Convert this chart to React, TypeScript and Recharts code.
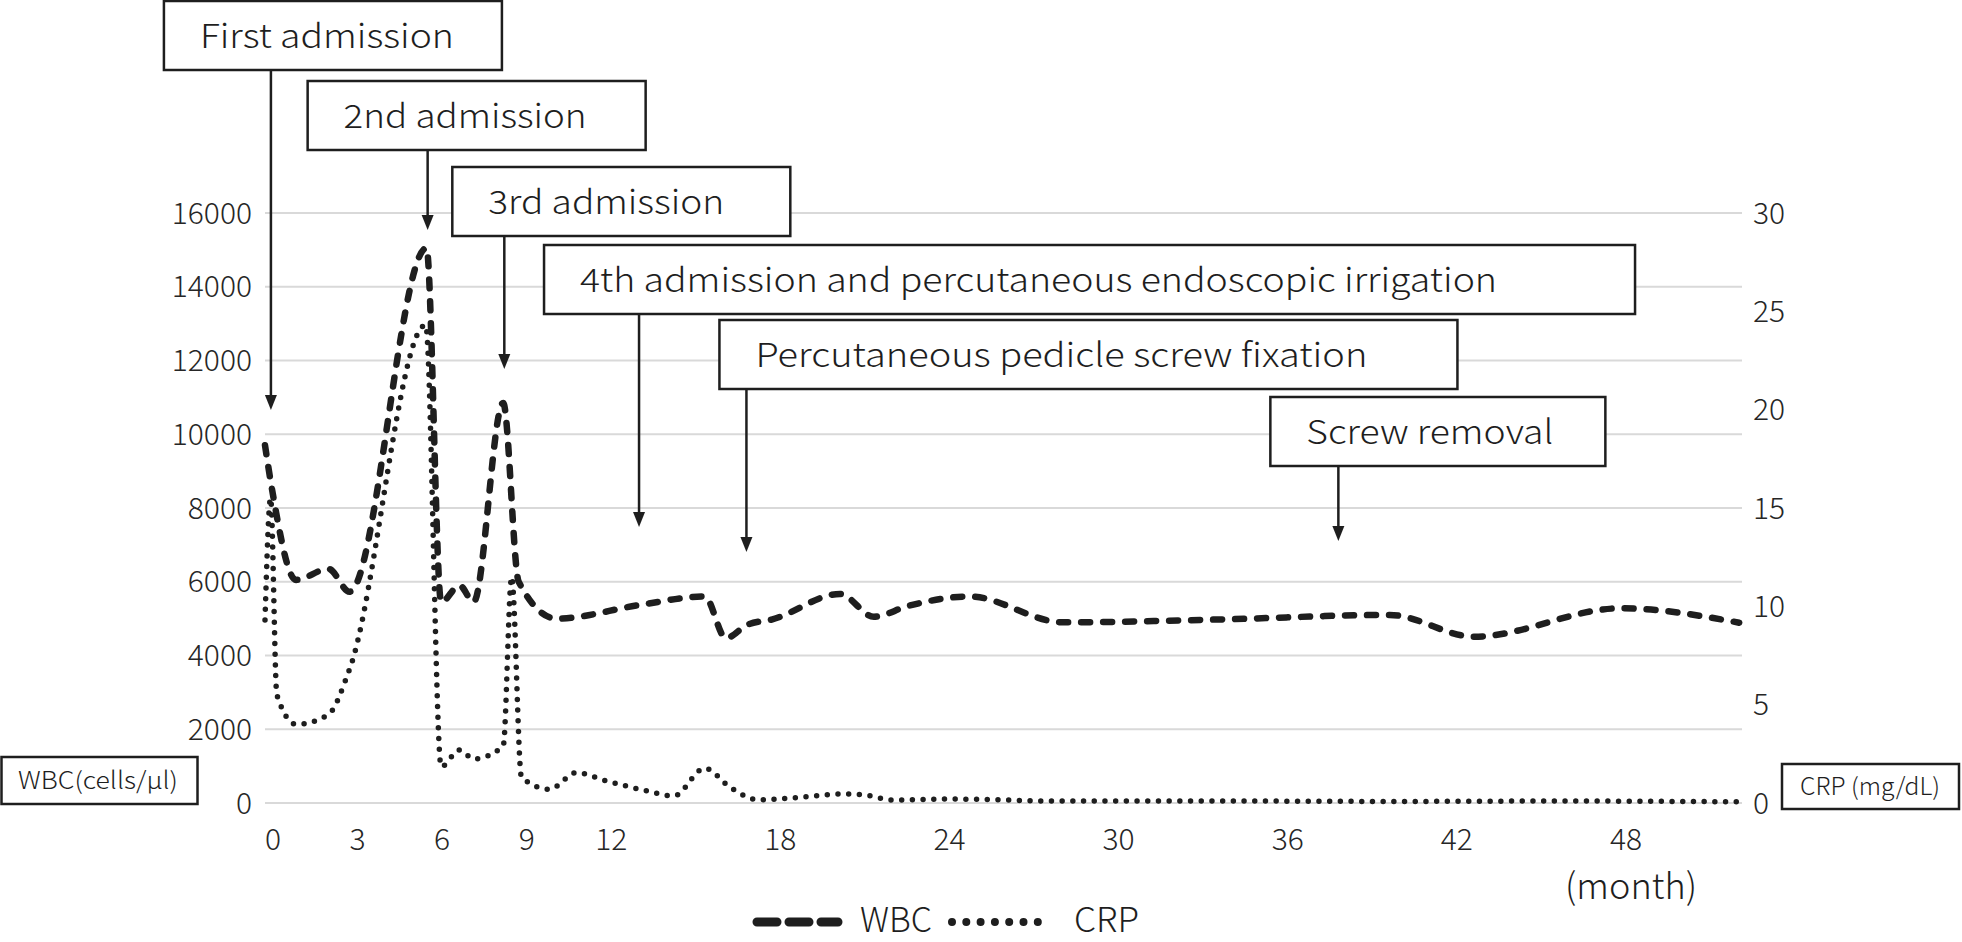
import { CartesianGrid, Legend, Line, LineChart, ReferenceLine, XAxis, YAxis } from "recharts";

// months since first admission
const wbcMonths = [0, 0.25, 1.1, 2.25, 3.0, 5.73, 6.25, 6.9, 7.4, 8.45, 9.0, 10.35, 13.3, 15.6, 16.35, 17.1, 18.0, 20.4, 21.6, 22.8, 25.0, 28.3, 34.0, 39.9, 42.9, 48.1, 52.3];
const wbcValues = [9700, 8500, 6050, 6350, 5730, 15050, 5450, 5900, 5450, 10850, 6000, 5000, 5370, 5600, 4470, 4830, 4980, 5670, 5050, 5340, 5600, 4900, 4980, 5100, 4510, 5280, 4890];

const crpMonths = [0, 0.2, 0.42, 1.1, 2.25, 3.0, 5.7, 6.25, 6.9, 7.4, 8.45, 8.75, 9.1, 10.1, 11.05, 12.0, 13.5, 14.5, 15.6, 16.5, 17.5, 18.6, 20.5, 21.3, 22.3, 24.0, 25.5, 28.0, 34.0, 40.0, 46.0, 52.3];
const crpValues = [9.3, 15.5, 5.5, 4.0, 4.5, 6.8, 24.3, 1.85, 2.7, 2.24, 2.9, 11.5, 1.3, 0.7, 1.55, 1.17, 0.63, 0.36, 1.77, 0.8, 0.16, 0.24, 0.46, 0.4, 0.15, 0.2, 0.18, 0.1, 0.1, 0.08, 0.1, 0.06];

const monthTicks = [0, 3, 6, 9, 12, 18, 24, 30, 36, 42, 48];
const minorTicks = Array.from({ length: 27 }, (_, i) => i * 2);
const wbcTicks = [0, 2000, 4000, 6000, 8000, 10000, 12000, 14000, 16000];
const crpTicks = [0, 5, 10, 15, 20, 25, 30];

const eventLabels = [
	"First admission",
	"2nd admission",
	"3rd admission",
	"4th admission and percutaneous endoscopic irrigation",
	"Percutaneous pedicle screw fixation",
	"Screw removal",
];
const eventMonths = [0.21, 5.77, 8.49, 13.27, 17.08, 38.08];

// box placement (px): offset of box from arrow, box top, box width, text width, arrow tip y
const eventBoxes = [
	{ dx: -107, top: 1, w: 338, tw: 254, tip: 410 },
	{ dx: -120, top: 81, w: 338, tw: 243, tip: 230 },
	{ dx: -52, top: 167, w: 338, tw: 236, tip: 369 },
	{ dx: -95, top: 245, w: 1091, tw: 917, tip: 527 },
	{ dx: -27, top: 320, w: 738, tw: 612, tip: 552 },
	{ dx: -68, top: 397, w: 335, tw: 247, tip: 541 },
];

const wbcData = wbcMonths.map((m, i) => ({ month: m, wbc: wbcValues[i] }));
const crpData = crpMonths.map((m, i) => ({ month: m, crp: crpValues[i] }));

const FONT = '"Noto Sans CJK JP", "Noto Sans", sans-serif';
const INK = "#1e1e1e";
const BOX_H = 69;

function EventMarker(props: any, i: number) {
	const b = eventBoxes[i];
	const x = props.x1;
	const left = x + b.dx;
	const bottom = b.top + BOX_H;
	return (
		<g>
			<rect x={left} y={b.top} width={b.w} height={BOX_H} fill="#fff" stroke={INK} strokeWidth={2.5} />
			<text
				x={left + 36}
				y={b.top + 47}
				fontSize={33}
				fontWeight={300}
				fontFamily={FONT}
				fill={INK}
				textLength={b.tw}
				lengthAdjust="spacingAndGlyphs"
			>
				{eventLabels[i]}
			</text>
			<line x1={x} y1={bottom} x2={x} y2={b.tip - 12} stroke={INK} strokeWidth={2.5} />
			<polygon points={`${x},${b.tip} ${x - 6},${b.tip - 15} ${x + 6},${b.tip - 15}`} fill={INK} />
		</g>
	);
}

function LegendContent() {
	return (
		<svg width={1962} height={34} style={{ overflow: "visible", display: "block" }}>
			<line x1={757} y1={14} x2={838} y2={14} stroke={INK} strokeWidth={9} strokeDasharray="20 12" strokeLinecap="round" />
			<text x={860} y={24} fontSize={34} fontWeight={300} fontFamily={FONT} fill={INK} textLength={72} lengthAdjust="spacingAndGlyphs">
				WBC
			</text>
			<line x1={952} y1={14} x2={1038} y2={14} stroke={INK} strokeWidth={8} strokeDasharray="0 14.3" strokeLinecap="round" />
			<text x={1074} y={24} fontSize={34} fontWeight={300} fontFamily={FONT} fill={INK} textLength={65} lengthAdjust="spacingAndGlyphs">
				CRP
			</text>
		</svg>
	);
}

export default function App() {
	const tickStyle = { fill: "#262626", fontSize: 30, fontWeight: 300, fontFamily: FONT };
	return (
		<div style={{ position: "relative", width: 1962, height: 942, overflow: "hidden", background: "#fff" }}>
			<style>{"body{margin:0}"}</style>
			<LineChart width={1962} height={942} margin={{ top: 213, right: 160, left: 205, bottom: 99 }}>
				<CartesianGrid yAxisId="left" xAxisId="main" vertical={false} stroke="#d9d9d9" strokeWidth={2} />
				<XAxis
					xAxisId="minor"
					type="number"
					dataKey="month"
					domain={[0, 52.4]}
					ticks={minorTicks}
					tickFormatter={() => ""}
					height={0}
					tickSize={7}
					tickLine={{ stroke: "#c8c8c8", strokeWidth: 2 }}
					axisLine={{ stroke: "#d9d9d9", strokeWidth: 2 }}
					interval={0}
				/>
				<XAxis
					xAxisId="main"
					type="number"
					dataKey="month"
					domain={[0, 52.4]}
					ticks={monthTicks}
					interval={0}
					height={40}
					tickSize={0}
					tickMargin={26}
					axisLine={false}
					tickLine={false}
					tick={{ ...tickStyle, dx: 8 }}
				/>
				<YAxis
					yAxisId="left"
					domain={[0, 16000]}
					ticks={wbcTicks}
					interval={0}
					width={60}
					tickSize={0}
					tickMargin={13}
					axisLine={false}
					tickLine={false}
					tick={tickStyle}
				/>
				<YAxis
					yAxisId="right"
					orientation="right"
					domain={[0, 30]}
					ticks={crpTicks}
					interval={0}
					width={60}
					tickSize={0}
					tickMargin={11}
					axisLine={false}
					tickLine={false}
					tick={tickStyle}
				/>
				<Line
					data={wbcData}
					xAxisId="main"
					yAxisId="left"
					dataKey="wbc"
					name="WBC"
					type="monotone"
					stroke={INK}
					strokeWidth={6.5}
					strokeDasharray="9 13"
					strokeLinecap="round"
					dot={false}
					activeDot={false}
					isAnimationActive={false}
				/>
				<Line
					data={crpData}
					xAxisId="main"
					yAxisId="right"
					dataKey="crp"
					name="CRP"
					type="monotone"
					stroke={INK}
					strokeWidth={5.5}
					strokeDasharray="0 10.7"
					strokeLinecap="round"
					dot={false}
					activeDot={false}
					isAnimationActive={false}
				/>
				{eventMonths.map((m, i) => (
					<ReferenceLine
						key={eventLabels[i]}
						xAxisId="main"
						yAxisId="left"
						segment={[
							{ x: m, y: 0 },
							{ x: m, y: 16000 },
						]}
						ifOverflow="visible"
						shape={(p: any) => EventMarker(p, i)}
					/>
				))}
				<Legend content={LegendContent} wrapperStyle={{ top: 908, left: 0, width: 1962, height: 0 }} />
			</LineChart>
			<svg
				width={1962}
				height={942}
				style={{ position: "absolute", left: 0, top: 0, pointerEvents: "none" }}
			>
				<rect x={1.5} y={757} width={196} height={47} fill="#fff" stroke={INK} strokeWidth={2.5} />
				<text x={18} y={789} fontSize={24} fontWeight={300} fontFamily={FONT} fill={INK} textLength={160} lengthAdjust="spacingAndGlyphs">
					WBC(cells/<tspan style={{ fontFeatureSettings: '"fwid"' }}>μ</tspan>l)
				</text>
				<rect x={1782} y={764} width={177} height={45} fill="#fff" stroke={INK} strokeWidth={2.5} />
				<text x={1800} y={795} fontSize={24} fontWeight={300} fontFamily={FONT} fill={INK} textLength={140} lengthAdjust="spacingAndGlyphs">
					CRP (mg/dL)
				</text>
				<text x={1565} y={899} fontSize={36} fontWeight={300} fontFamily={FONT} fill={INK} textLength={132} lengthAdjust="spacingAndGlyphs">
					(month)
				</text>
			</svg>
		</div>
	);
}
